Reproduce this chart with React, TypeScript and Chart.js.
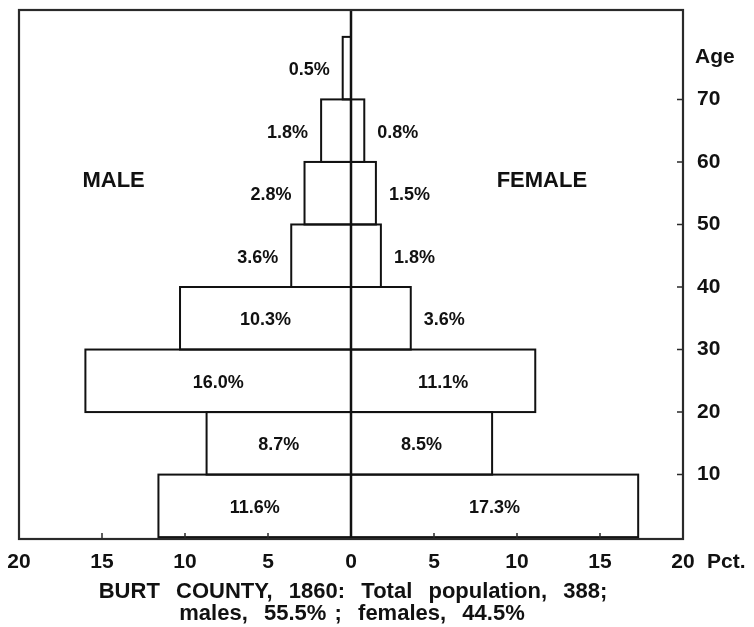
import React, { useEffect, useRef } from "react";
import { Chart, registerables } from "chart.js";

Chart.register(...registerables);

// Age groups (start of each 10-year bin)
const ageStarts = [0, 10, 20, 30, 40, 50, 60, 70];
// Percent of total population
const malePct = [11.6, 8.7, 16.0, 10.3, 3.6, 2.8, 1.8, 0.5];
const femalePct: (number | null)[] = [17.3, 8.5, 11.1, 3.6, 1.8, 1.5, 0.8, null];
// Axis tick values
const ageTicks = [10, 20, 30, 40, 50, 60, 70];
const pctTicks = [-20, -15, -10, -5, 0, 5, 10, 15, 20];
// Texts
const titleLines = [
  "BURT  COUNTY,  1860:  Total  population,  388;",
  "males,  55.5% ;  females,  44.5%",
];
const maleLabel = "MALE";
const femaleLabel = "FEMALE";
const ageAxisLabel = "Age";
const pctAxisLabel = "Pct.";

const FONT = "'Liberation Sans', Arial, Helvetica, sans-serif";
const INK = "#111";

const zeroPadding = (s: any) => {
  s.paddingTop = 0;
  s.paddingBottom = 0;
  s.paddingLeft = 0;
  s.paddingRight = 0;
};

const decorPlugin = {
  id: "decor",
  beforeDraw(chart: any) {
    const ctx = chart.ctx;
    ctx.save();
    ctx.fillStyle = "#fff";
    ctx.fillRect(0, 0, chart.width, chart.height);
    ctx.restore();
  },
  afterDatasetsDraw(chart: any) {
    const ctx = chart.ctx;
    const { left, right, top, bottom } = chart.chartArea;
    const xs = chart.scales.x;
    const ys = chart.scales.y;
    ctx.save();

    // bar outlines
    ctx.strokeStyle = INK;
    ctx.lineWidth = 2;
    chart.data.datasets.forEach((ds: any, di: number) => {
      const meta = chart.getDatasetMeta(di);
      meta.data.forEach((el: any, i: number) => {
        const v = ds.data[i];
        if (!v || v.x === null || v.x === undefined) return;
        const x0 = Math.min(el.x, el.base);
        const x1 = Math.max(el.x, el.base);
        const y0 = el.y - el.height / 2;
        ctx.strokeRect(x0, y0, x1 - x0, el.height);
      });
    });

    // center line
    const cx = xs.getPixelForValue(0);
    ctx.lineWidth = 2.5;
    ctx.beginPath();
    ctx.moveTo(cx, top);
    ctx.lineTo(cx, bottom);
    ctx.stroke();

    // frame
    ctx.strokeStyle = "#2a2a2a";
    ctx.lineWidth = 2.2;
    ctx.strokeRect(left, top, right - left, bottom - top);

    // inward tick marks
    ctx.lineWidth = 1.5;
    ctx.beginPath();
    pctTicks.forEach((t) => {
      if (t === 0 || Math.abs(t) === 20) return;
      const px = xs.getPixelForValue(t);
      ctx.moveTo(px, bottom);
      ctx.lineTo(px, bottom - 6);
    });
    ageTicks.forEach((t) => {
      const py = ys.getPixelForValue(t);
      ctx.moveTo(right, py);
      ctx.lineTo(right - 6, py);
    });
    ctx.stroke();

    // bar value labels
    ctx.fillStyle = INK;
    ctx.font = `bold 18px ${FONT}`;
    ctx.textBaseline = "middle";
    chart.data.datasets.forEach((ds: any, di: number) => {
      const meta = chart.getDatasetMeta(di);
      meta.data.forEach((el: any, i: number) => {
        const raw = di === 0 ? malePct[i] : femalePct[i];
        if (raw === null || raw === undefined) return;
        const txt = raw.toFixed(1) + "%";
        const y = el.y + 2;
        if (raw >= 5) {
          ctx.textAlign = "center";
          ctx.fillText(txt, (el.x + el.base) / 2, y);
        } else if (di === 0) {
          ctx.textAlign = "right";
          ctx.fillText(txt, el.x - 13, y);
        } else {
          ctx.textAlign = "left";
          ctx.fillText(txt, el.x + 13, y);
        }
      });
    });

    // MALE / FEMALE
    ctx.font = `bold 22px ${FONT}`;
    ctx.textAlign = "center";
    ctx.fillText(maleLabel, xs.getPixelForValue(-14.3), ys.getPixelForValue(57));
    ctx.fillText(femaleLabel, xs.getPixelForValue(11.5), ys.getPixelForValue(57));

    // Age label
    ctx.font = `bold 21px ${FONT}`;
    ctx.textAlign = "left";
    ctx.textBaseline = "alphabetic";
    ctx.fillText(ageAxisLabel, right + 12, ys.getPixelForValue(75.8));

    // Pct. label
    ctx.fillText(pctAxisLabel, right + 24, bottom + 29);

    // title
    ctx.font = `bold 22px ${FONT}`;
    ctx.textAlign = "center";
    try {
      (ctx as any).wordSpacing = "2px";
    } catch (e) {
      /* ignore */
    }
    ctx.fillText(titleLines[0], cx + 2, 598);
    ctx.fillText(titleLines[1], cx + 1, 620);

    ctx.restore();
  },
};

export default function App() {
  const ref = useRef<HTMLCanvasElement | null>(null);
  useEffect(() => {
    if (!ref.current) return;
    const chart = new Chart(ref.current, {
      type: "bar",
      data: {
        datasets: [
          {
            label: "Male",
            data: ageStarts.map((a, i) => ({ y: a + 5, x: -malePct[i] })),
            backgroundColor: "#fff",
            borderWidth: 0,
            grouped: false,
            barPercentage: 1,
            categoryPercentage: 1,
          } as any,
          {
            label: "Female",
            data: ageStarts
              .map((a, i) => ({ y: a + 5, x: femalePct[i] }))
              .filter((d) => d.x !== null),
            backgroundColor: "#fff",
            borderWidth: 0,
            grouped: false,
            barPercentage: 1,
            categoryPercentage: 1,
          } as any,
        ],
      },
      options: {
        indexAxis: "y",
        animation: false,
        responsive: true,
        maintainAspectRatio: false,
        devicePixelRatio: 1,
        layout: { padding: { left: 19, top: 10, right: 0, bottom: 0 } },
        plugins: {
          legend: { display: false },
          tooltip: { enabled: false },
          title: { display: false },
        },
        scales: {
          x: {
            type: "linear",
            position: "bottom",
            min: -20,
            max: 20,
            offset: false,
            afterFit: (s: any) => {
              s.height = 88;
              zeroPadding(s);
            },
            afterBuildTicks: (s: any) => {
              s.ticks = pctTicks.map((v) => ({ value: v }));
            },
            grid: { display: false, drawTicks: false, offset: false },
            border: { display: false },
            ticks: {
              autoSkip: false,
              maxRotation: 0,
              padding: 11,
              color: INK,
              font: { family: FONT, size: 21, weight: "bold" },
              callback: (v: any) => String(Math.abs(Number(v))),
            },
          },
          y: {
            type: "linear",
            position: "right",
            min: -0.3,
            max: 84.3,
            offset: false,
            afterFit: (s: any) => {
              s.width = 71;
              zeroPadding(s);
            },
            afterBuildTicks: (s: any) => {
              s.ticks = ageTicks.map((v) => ({ value: v }));
            },
            grid: { display: false, drawTicks: false, offset: false },
            border: { display: false },
            ticks: {
              padding: 14,
              color: INK,
              font: { family: FONT, size: 21, weight: "bold" },
              callback: (v: any) => String(v),
            },
          },
        },
      } as any,
      plugins: [decorPlugin],
    });
    return () => chart.destroy();
  }, []);
  return (
    <div style={{ position: "fixed", left: 0, top: 0, width: 754, height: 627 }}>
      <canvas ref={ref} />
    </div>
  );
}
